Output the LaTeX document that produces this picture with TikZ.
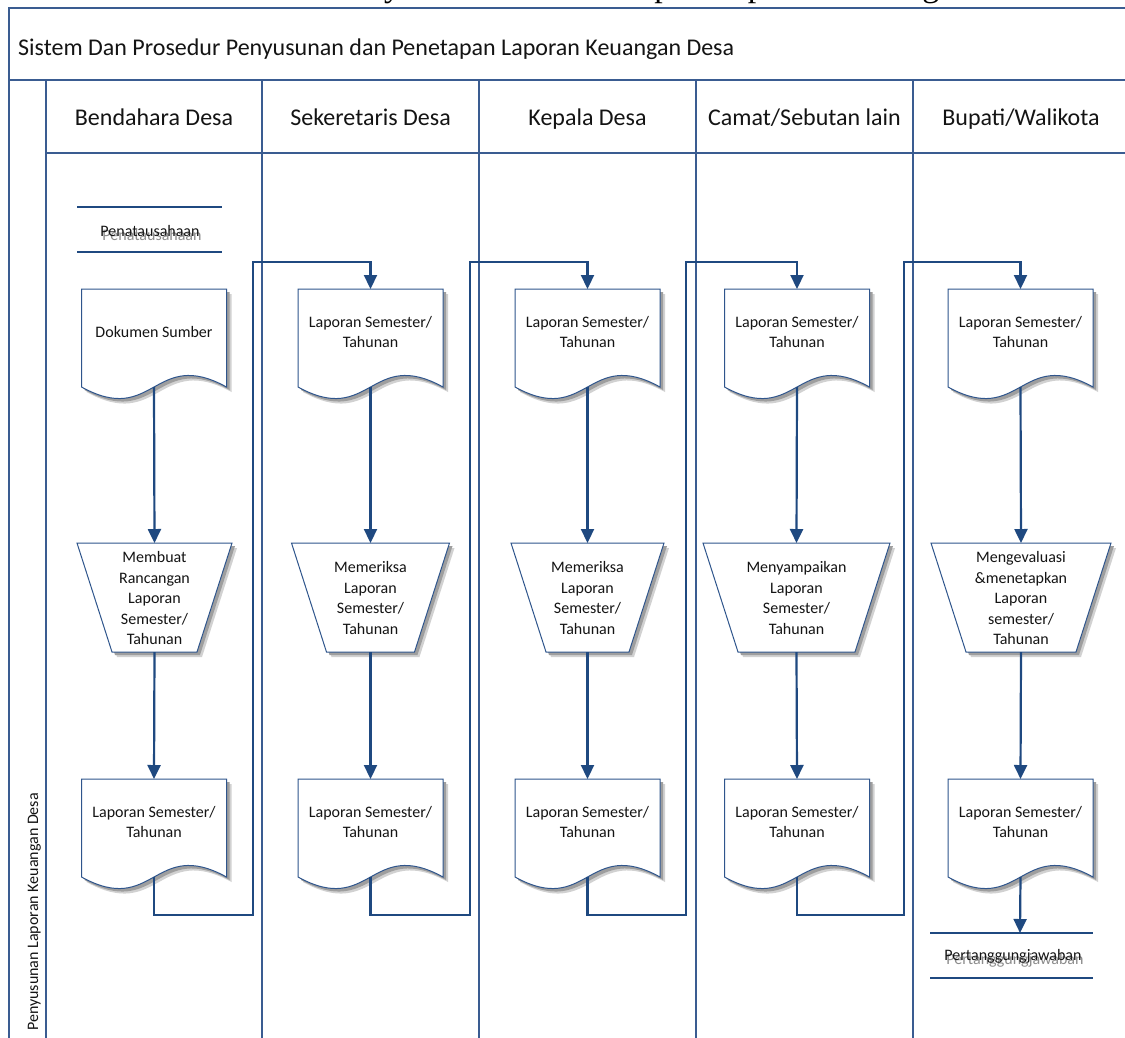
\documentclass[tikz,border=0pt]{standalone}
\usepackage{fontspec}
\setmainfont{Carlito}
\newfontfamily\captionserif{Liberation Serif}
\usetikzlibrary{arrows.meta}

\definecolor{framecol}{RGB}{58,92,145}
\definecolor{conncol}{RGB}{31,73,128}
\definecolor{edgecol}{RGB}{47,85,140}
\definecolor{inkcol}{RGB}{20,20,20}

\tikzset{
  lane/.style={draw=framecol, line width=1.9pt},
  conn/.style={draw=conncol, line width=2.2pt, -{Triangle[length=14pt,width=13pt]}},
  storeline/.style={draw=conncol, line width=2.1pt},
  shapeedge/.style={draw=edgecol, line width=1pt, fill=white},
  shadefar/.style={fill=black!18},
  shadenear/.style={fill=black!38},
  boxtext/.style={font=\fontsize{16}{20.5}\selectfont, text=inkcol, align=center, inner sep=0pt},
  ghosttext/.style={font=\fontsize{16}{20.5}\selectfont, text=black!45, align=center, inner sep=0pt},
  headtext/.style={font=\fontsize{24}{28}\selectfont, text=inkcol, inner sep=0pt},
}

% document symbol: name, centre x, top y, width, text
\newcommand{\docsym}[5]{%
  \foreach \dx/\sty in {5/shadefar,3/shadenear}{%
    \fill[\sty, shift={(\dx,\dx)}] (#2-#4/2,#3) -- (#2+#4/2,#3) -- (#2+#4/2,#3+98)
      .. controls (#2,#3+58) and (#2,#3+138) .. (#2-#4/2,#3+98) -- cycle;}
  \draw[shapeedge] (#2-#4/2,#3) -- (#2+#4/2,#3) -- (#2+#4/2,#3+98)
      .. controls (#2,#3+58) and (#2,#3+138) .. (#2-#4/2,#3+98) -- cycle;
  \node[boxtext] (#1) at (#2,#3+43) {#5};
  \coordinate (#1-top) at (#2,#3);
  \coordinate (#1-bot) at (#2,#3+98);
}

% manual operation symbol: name, centre x, top y, top width, text
\newcommand{\manualsym}[5]{%
  \foreach \dx/\sty in {5/shadefar,3/shadenear}{%
    \fill[\sty, shift={(\dx,\dx)}] (#2-#4/2,#3) -- (#2+#4/2,#3) -- (#2+#4/2-35,#3+109)
      -- (#2-#4/2+35,#3+109) -- cycle;}
  \draw[shapeedge] (#2-#4/2,#3) -- (#2+#4/2,#3) -- (#2+#4/2-35,#3+109)
      -- (#2-#4/2+35,#3+109) -- cycle;
  \node[boxtext] (#1) at (#2,#3+55) {#5};
  \coordinate (#1-top) at (#2,#3);
  \coordinate (#1-bot) at (#2,#3+109);
}

\begin{document}
\begin{tikzpicture}[x=1pt,y=-1pt]
\useasboundingbox (0,0) rectangle (1125,1037);
\clip (0,0) rectangle (1125,1037);
\fill[white] (0,0) rectangle (1125,1037);

% running caption line above the frame (only its descenders fall inside)
\begin{scope}
  \clip (0,0) rectangle (1125,8);
  \node[anchor=base west, inner sep=0pt, font=\captionserif\fontsize{34}{40}\selectfont]
    (capline) at (45,-3.5) {Sistem dan Prosedur Penyusunan dan Penetapan Laporan Keuangan Desa};
\end{scope}

% swimlane frame
\draw[lane] (9,1045) -- (9,8) -- (1135,8);
\draw[lane] (9,80) -- (1135,80);
\draw[lane] (46,153) -- (1135,153);
\foreach \lx in {46,262,479,696,913}
  \draw[lane] (\lx,80) -- (\lx,1045);

\node[headtext, anchor=base west] (title) at (18,55)
  {Sistem Dan Prosedur Penyusunan dan Penetapan Laporan Keuangan Desa};
\node[headtext, anchor=base] (h1) at (154,125) {Bendahara Desa};
\node[headtext, anchor=base] (h2) at (370.5,125) {Sekeretaris Desa};
\node[headtext, anchor=base] (h3) at (587.5,125) {Kepala Desa};
\node[headtext, anchor=base] (h4) at (804.5,125) {Camat/Sebutan lain};
\node[headtext, anchor=base] (h5) at (1021,125) {Bupati/Walikota};

\node[rotate=90, anchor=base west, inner sep=0pt, text=inkcol,
      font=\fontsize{16}{20}\selectfont] (phase) at (38,1031)
  {Penyusunan Laporan Keuangan Desa};

% data store: Penatausahaan
\draw[storeline] (77,207) -- (222,207);
\draw[storeline] (77,252) -- (222,252);
\node[ghosttext] (ds1g) at (152,235) {Penatausahaan};
\node[boxtext] (ds1) at (150,231) {Penatausahaan};

% data store: Pertanggungjawaban
\draw[storeline] (930,933) -- (1093,933);
\draw[storeline] (930,978) -- (1093,978);
\node[ghosttext] (ds2g) at (1015,960) {Pertanggungjawaban};
\node[boxtext] (ds2) at (1013,956) {Pertanggungjawaban};
\coordinate (ds2-top) at (1020,933);

% lane symbols
\docsym{d1}{154}{289}{145}{Dokumen Sumber}
\docsym{d2}{370.5}{289}{145}{Laporan Semester/\\Tahunan}
\docsym{d3}{587.5}{289}{145}{Laporan Semester/\\Tahunan}
\docsym{d4}{797}{289}{145}{Laporan Semester/\\Tahunan}
\docsym{d5}{1020.5}{289}{145}{Laporan Semester/\\Tahunan}

\manualsym{m1}{154.5}{543}{155}{Membuat\\Rancangan\\Laporan\\Semester/\\Tahunan}
\manualsym{m2}{370.5}{543}{158}{Memeriksa\\Laporan\\Semester/\\Tahunan}
\manualsym{m3}{587.5}{543}{153}{Memeriksa\\Laporan\\Semester/\\Tahunan}
\manualsym{m4}{796.5}{543}{187}{Menyampaikan\\Laporan\\Semester/\\Tahunan}
\manualsym{m5}{1021}{543}{180}{Mengevaluasi\\\&menetapkan\\Laporan\\semester/\\Tahunan}

\docsym{e1}{154}{779}{145}{Laporan Semester/\\Tahunan}
\docsym{e2}{370.5}{779}{145}{Laporan Semester/\\Tahunan}
\docsym{e3}{587.5}{779}{145}{Laporan Semester/\\Tahunan}
\docsym{e4}{797}{779}{145}{Laporan Semester/\\Tahunan}
\docsym{e5}{1020.5}{779}{145}{Laporan Semester/\\Tahunan}

% flow within each lane
\foreach \k in {1,...,5}{
  \draw[conn] (d\k-bot) -- (m\k-top);
  \draw[conn] (m\k-bot) -- (e\k-top);
}

% hand-over between lanes
\coordinate (b1) at (253,915); \coordinate (u1) at (253,262);
\coordinate (b2) at (470,915); \coordinate (u2) at (470,262);
\coordinate (b3) at (686,915); \coordinate (u3) at (686,262);
\coordinate (b4) at (904,915); \coordinate (u4) at (904,262);
\draw[conn] (e1-bot) |- (b1) -- (u1) -| (d2-top);
\draw[conn] (e2-bot) |- (b2) -- (u2) -| (d3-top);
\draw[conn] (e3-bot) |- (b3) -- (u3) -| (d4-top);
\draw[conn] (e4-bot) |- (b4) -- (u4) -| (d5-top);

\draw[conn] (e5-bot) -- (ds2-top);
\end{tikzpicture}
\end{document}
